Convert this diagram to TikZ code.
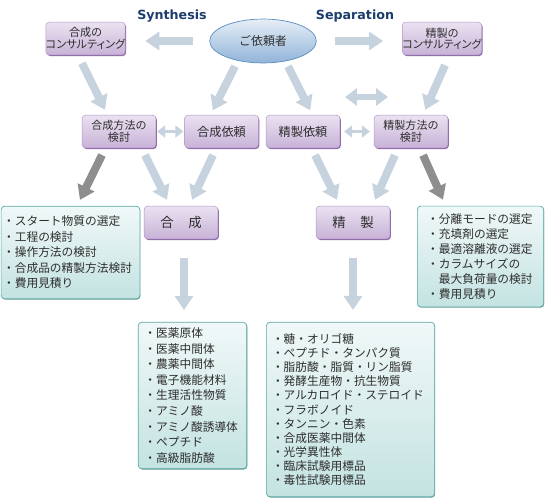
\documentclass[tikz,border=0pt]{standalone}
\usepackage{fontspec}
\setmainfont{Noto Sans CJK JP}
\newfontfamily\jpp[RawFeature=+palt]{Noto Sans CJK JP}
\newfontfamily\latn{DejaVu Sans}
\usetikzlibrary{calc,arrows.meta,shadows,shapes.geometric}

\definecolor{boxtop}{HTML}{EAE2F1}
\definecolor{boxbot}{HTML}{C8B2D7}
\definecolor{boxline}{HTML}{B096C6}
\definecolor{boxshade}{HTML}{8C6AA6}
\definecolor{listtop}{HTML}{F0F8F8}
\definecolor{listbot}{HTML}{C3E3E1}
\definecolor{listline}{HTML}{5AAAA6}
\definecolor{ovaltop}{HTML}{E6EEF7}
\definecolor{ovalbot}{HTML}{91B4D8}
\definecolor{ovalline}{HTML}{5A8EC2}
\definecolor{arrowlight}{HTML}{C6D2DD}
\definecolor{arrowdark}{HTML}{8E8E8E}
\definecolor{titleblue}{HTML}{1B3D6D}
\definecolor{inktext}{HTML}{2E2E2E}

\tikzset{
	stepbox/.style={draw=boxline, line width=0.4pt, rounded corners=3pt, top color=boxtop, bottom color=boxbot,
		drop shadow={shadow xshift=0.8pt, shadow yshift=-1pt, fill=boxshade, opacity=1},
		text=inktext, align=center, inner sep=0pt, minimum width=63pt, minimum height=28pt},
	listbox/.style={draw=listline, line width=0.6pt, rounded corners=3pt, top color=listtop, bottom color=listbot,
		drop shadow={shadow xshift=0.5pt, shadow yshift=-0.7pt, fill=listline!80!black, opacity=0.8},
		text=inktext, align=left, inner ysep=0pt},
	bigarrow/.style={draw=arrowlight, line width=6.8pt, -{Triangle[width=15.3pt, length=11.9pt]}},
	darkarrow/.style={bigarrow, draw=arrowdark, fill=arrowdark},
	swaparrow/.style={draw=arrowlight, line width=5.1pt, {Triangle[width=14.5pt, length=10.2pt]}-{Triangle[width=14.5pt, length=10.2pt]}},
	smallswap/.style={draw=arrowlight, line width=3.4pt, {Triangle[width=10.2pt, length=6.8pt]}-{Triangle[width=10.2pt, length=6.8pt]}},
	headline/.style={text=titleblue, font=\latn\bfseries\fontsize{10.8}{12}\selectfont}
}

\begin{document}
\begin{tikzpicture}[x=0.03cm, y=-0.03cm]
			%%%%% START %%%%%
			\useasboundingbox (0, 0) rectangle (560, 500);
			
			\node[headline] (syntitle) at (172, 16) {Synthesis};
			\node[headline] (septitle) at (355, 16) {Separation};
			
			\node[ellipse, draw=ovalline, line width=0.6pt, top color=ovaltop, bottom color=ovalbot, text=inktext,
				minimum width=91pt, minimum height=37.5pt, inner sep=0pt, font=\fontsize{10.2}{12}\selectfont] (client) at (263, 41) {ご依頼者};
			
			% consulting
			\node[stepbox, font=\jpp\fontsize{9.5}{9.8}\selectfont] (syncons) at (85.5, 38.5) {合成の\\コンサルティング};
			\node[stepbox, font=\jpp\fontsize{9.5}{9.8}\selectfont] (sepcons) at (442, 38.5) {精製の\\コンサルティング};
			
			% requests and methods
			\node[stepbox, font=\fontsize{9.4}{10}\selectfont] (synmeth) at (119, 131.5) {合成方法の\\検討};
			\node[stepbox, font=\fontsize{10.4}{12}\selectfont] (synreq) at (221.5, 131.5) {合成依頼};
			\node[stepbox, font=\fontsize{10.4}{12}\selectfont] (sepreq) at (303, 131.5) {精製依頼};
			\node[stepbox, font=\fontsize{9.4}{10}\selectfont] (sepmeth) at (411, 131.5) {精製方法の\\検討};
			
			\node[stepbox, font=\fontsize{11.4}{12}\selectfont] (syn) at (181, 222.5) {合\hspace{1.1em}成};
			\node[stepbox, font=\fontsize{11.4}{12}\selectfont] (sep) at (353, 222.5) {精\hspace{1.1em}製};
			
			% lists
			\node[listbox, text width=115pt, inner xsep=1.7pt, minimum height=79pt, font=\fontsize{10}{13.2}\selectfont] (synlist) at (70.5, 252.5)
				{・スタート物質の選定\\・工程の検討\\・操作方法の検討\\・合成品の精製方法検討\\・費用見積り};
			\node[listbox, text width=91pt, inner xsep=8.4pt, minimum height=86pt, font=\fontsize{10}{12.9}\selectfont] (seplist) at (480.5, 256.5)
				{・分離モードの選定\\・充填剤の選定\\・最適溶離液の選定\\・カラムサイズの\\\hspace*{1em}最大負荷量の検討\\・費用見積り};
			\node[listbox, text width=82pt, inner xsep=5.3pt, minimum height=125pt, font=\fontsize{10}{13.3}\selectfont] (synprod) at (192.5, 395.5)
				{・医薬原体\\・医薬中間体\\・農薬中間体\\・電子機能材料\\・生理活性物質\\・アミノ酸\\・アミノ酸誘導体\\・ペプチド\\・高級脂肪酸};
			\node[listbox, text width=134pt, inner xsep=4.8pt, minimum height=149pt, font=\fontsize{10}{12.1}\selectfont] (sepprod) at (350.5, 409.5)
				{・糖・オリゴ糖\\・ペプチド・タンパク質\\・脂肪酸・脂質・リン脂質\\・発酵生産物・抗生物質\\・アルカロイド・ステロイド\\・フラボノイド\\・タンニン・色素\\・合成医薬中間体\\・光学異性体\\・臨床試験用標品\\・毒性試験用標品};
			
			% arrows, top
			\draw[bigarrow, shorten <=13.6pt, shorten >=17pt] (client.west) -- (client.west -| syncons.east);
			\draw[bigarrow, shorten <=15.3pt, shorten >=16.2pt] (client.east) -- (client.east -| sepcons.west);
			\draw[bigarrow, shorten <=7.7pt, shorten >=4.8pt] ($(syncons.south)+(-7.5,0)$) -- ($(synmeth.north)+(-11.5,0)$);
			\draw[bigarrow, shorten >=4.3pt] ($(client.south)+(-28,3)$) -- ($(synreq.north)+(-11,0)$);
			\draw[bigarrow, shorten >=4.3pt] ($(client.south)+(25,3)$) -- ($(sepreq.north)+(9.5,0)$);
			\draw[bigarrow, shorten <=9.4pt, shorten >=4.7pt] ($(sepcons.south)+(7.5,0)$) -- ($(sepmeth.north)+(12,0)$);
			
			\coordinate (swapA) at (345, 97);
			\coordinate (swapB) at (388, 97);
			\draw[swaparrow] (swapA) -- (swapB);
			\draw[smallswap, shorten <=0.85pt, shorten >=0.85pt] (synmeth.east) -- (synreq.west);
			\draw[smallswap, shorten <=3.4pt, shorten >=3.4pt] (sepreq.east) -- (sepmeth.west);
			
			% arrows, middle
			\draw[darkarrow, shorten <=6.6pt, shorten >=5.7pt] ($(synmeth.south)+(-13.6,0)$) -- ($(synlist.north)+(6.5,0)$);
			\draw[bigarrow, shorten <=6.6pt, shorten >=5.7pt] ($(synmeth.south)+(22.6,0)$) -- ($(syn.north)+(-11,0)$);
			\draw[bigarrow, shorten <=6.6pt, shorten >=5.7pt] ($(synreq.south)+(-5.2,0)$) -- ($(syn.north)+(8.2,0)$);
			\draw[bigarrow, shorten <=6.6pt, shorten >=5.7pt] ($(sepreq.south)+(8.6,0)$) -- ($(sep.north)+(-13,0)$);
			\draw[bigarrow, shorten <=6.6pt, shorten >=5.7pt] ($(sepmeth.south)+(-12.9,0)$) -- ($(sep.north)+(19.3,0)$);
			\draw[darkarrow, shorten <=6.6pt, shorten >=5.7pt] ($(sepmeth.south)+(8.9,0)$) -- ($(seplist.north)+(-34.8,0)$);
			
			% arrows, bottom
			\draw[bigarrow, shorten <=16.2pt, shorten >=10.2pt] ($(syn.south)+(3,0)$) -- ($(syn.south |- synprod.north)+(3,0)$);
			\draw[bigarrow, shorten <=16.2pt, shorten >=10.2pt] (sep.south) -- (sep.south |- sepprod.north);
			
			%%%%% END %%%%%
\end{tikzpicture}
\end{document}
